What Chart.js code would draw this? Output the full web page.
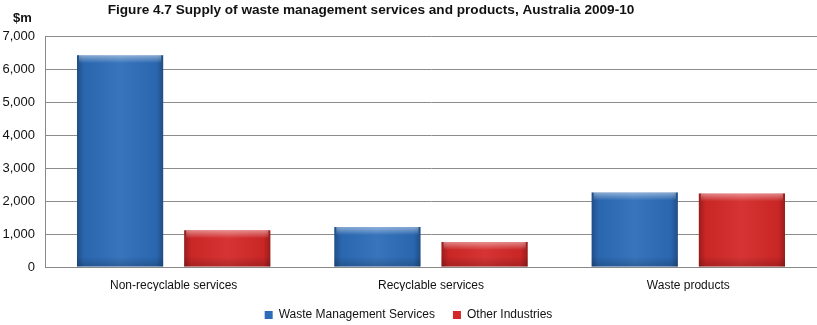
<!DOCTYPE html>
<html lang="en">
<head>
    <meta charset="UTF-8">
    <title>Supply of waste management services and products</title>
    <script src="https://cdn.jsdelivr.net/npm/chart.js"></script>
    <style>
        body { margin: 0; background: #fff; }
        #wrap { width: 817px; height: 325px; }
    </style>
</head>
<body>
    <div id="wrap"><canvas id="wasteChart" width="817" height="325"></canvas></div>
    <script>
        const categories = ['Non-recyclable services', 'Recyclable services', 'Waste products'];
        const wasteMgmt = [6420, 1210, 2260];
        const otherInd = [1110, 760, 2230];
        const yTicks = [0, 1000, 2000, 3000, 4000, 5000, 6000, 7000];

        const FONT = "'Liberation Sans', Arial, sans-serif";

        // title + "$m" label, drawn at fixed spots like the original figure
        const headerPlugin = {
            id: 'header',
            beforeLayout(chart) {
                // keep the legend strip short but its items spread out
                const lg = chart.legend;
                if (lg && !lg._shortFit) {
                    const fit = lg.fit;
                    lg.fit = function () { fit.call(this); this.height = 34; };
                    lg._shortFit = true;
                }
            },
            afterDraw(chart) {
                const ctx = chart.ctx;
                ctx.save();
                ctx.fillStyle = '#111';
                ctx.font = 'bold 13.6px ' + FONT;
                ctx.textBaseline = 'middle';
                ctx.textAlign = 'center';
                ctx.fillText('Figure 4.7 Supply of waste management services and products, Australia 2009-10', 371, 10);
                ctx.textAlign = 'left';
                ctx.font = 'bold 13px ' + FONT;
                ctx.fillText('$m', 13, 18);
                ctx.restore();
            }
        };

        // shading over each bar so it looks like the glossy excel bars
        const shadePlugin = {
            id: 'shade',
            afterDatasetsDraw(chart) {
                const ctx = chart.ctx;
                chart.data.datasets.forEach((ds, i) => {
                    const meta = chart.getDatasetMeta(i);
                    meta.data.forEach(bar => {
                        const left = bar.x - bar.width / 2;
                        const top = bar.y;
                        const h = bar.base - bar.y;
                        const g = ctx.createLinearGradient(left, 0, left + bar.width, 0);
                        g.addColorStop(0, 'rgba(0,0,0,0.28)');
                        g.addColorStop(0.08, 'rgba(0,0,0,0.05)');
                        g.addColorStop(0.5, 'rgba(255,255,255,0.06)');
                        g.addColorStop(0.92, 'rgba(0,0,0,0.05)');
                        g.addColorStop(1, 'rgba(0,0,0,0.28)');
                        ctx.fillStyle = g;
                        ctx.fillRect(left, top, bar.width, h);
                        const v = ctx.createLinearGradient(0, top, 0, top + 8);
                        v.addColorStop(0, 'rgba(255,255,255,0.45)');
                        v.addColorStop(1, 'rgba(255,255,255,0)');
                        ctx.fillStyle = v;
                        ctx.fillRect(left + 2, top, bar.width - 4, Math.min(8, h));
                        const b = ctx.createLinearGradient(0, bar.base - 10, 0, bar.base);
                        b.addColorStop(0, 'rgba(0,0,0,0)');
                        b.addColorStop(1, 'rgba(0,0,0,0.18)');
                        ctx.fillStyle = b;
                        ctx.fillRect(left, bar.base - 10, bar.width, 10);
                    });
                });
            }
        };

        new Chart(document.getElementById('wasteChart'), {
            type: 'bar',
            data: {
                labels: categories,
                datasets: [
                    {
                        label: 'Waste Management Services',
                        data: wasteMgmt,
                        backgroundColor: '#2c6cb8',
                        borderWidth: 0
                    },
                    {
                        label: 'Other Industries',
                        data: otherInd,
                        backgroundColor: '#d42828',
                        borderWidth: 0
                    }
                ]
            },
            options: {
                responsive: false,
                animation: false,
                devicePixelRatio: 1,
                layout: { padding: { top: 36, right: 0, left: 0, bottom: 0 } },
                datasets: {
                    bar: { categoryPercentage: 0.833, barPercentage: 0.804 }
                },
                plugins: {
                    legend: {
                        position: 'bottom',
                        labels: {
                            boxWidth: 8,
                            boxHeight: 8,
                            padding: 18,
                            color: '#111',
                            font: { family: FONT, size: 12 }
                        }
                    },
                    title: { display: false },
                    tooltip: { enabled: false }
                },
                scales: {
                    x: {
                        afterFit(scale) { scale.height = 24; },
                        grid: { display: false, drawTicks: false },
                        border: { color: '#888' },
                        ticks: { color: '#111', padding: 11, font: { family: FONT, size: 12 } }
                    },
                    y: {
                        min: 0,
                        max: 7000,
                        afterFit(scale) { scale.width = 45; },
                        afterBuildTicks(scale) { scale.ticks = yTicks.map(v => ({ value: v })); },
                        grid: { color: '#8c8c8c', drawTicks: false },
                        border: { color: '#888' },
                        ticks: {
                            color: '#111',
                            padding: 10,
                            font: { family: FONT, size: 13 },
                            callback: v => v.toLocaleString('en-US')
                        }
                    }
                }
            },
            plugins: [headerPlugin, shadePlugin]
        });
    </script>
</body>
</html>
